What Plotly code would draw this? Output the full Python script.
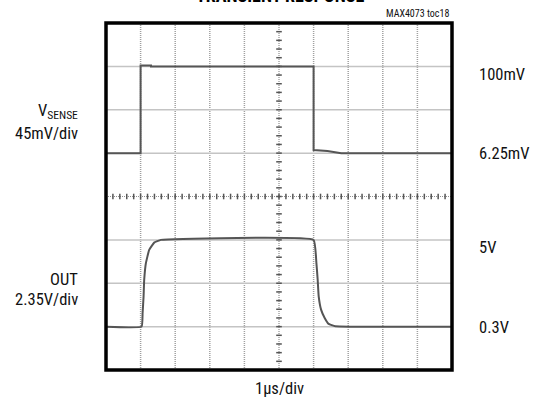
import plotly.graph_objects as go

# ---- data ----
t_vsense = [0, 1.0, 1.0, 1.3, 1.3, 6.0, 6.0, 6.4, 6.8, 10]
v_vsense = [6.25, 6.25, 101, 101, 100, 100, 9.5, 8.5, 6.25, 6.25]

t_out = [0, 1.029, 1.058, 1.086, 1.104, 1.153, 1.248, 1.392, 1.585, 6.0,
         6.081, 6.118, 6.147, 6.216, 6.32, 6.435, 6.628, 10]
v_out = [0.3, 0.3, 1.04, 1.94, 2.84, 3.74, 4.46, 4.85, 5.0, 5.0,
         3.74, 2.84, 1.94, 1.22, 0.77, 0.45, 0.32, 0.3]

left_labels = ["V<sub>SENSE</sub>", "45mV/div", "OUT", "2.35V/div"]
right_labels = ["100mV", "6.25mV", "5V", "0.3V"]
title_text = "TRANSIENT RESPONSE"
x_label = "1µs/div"
note = "MAX4073 toc18"

# ---- scales ----
n_xdiv, n_ydiv = 10, 8
vs_per_div = (100 - 6.25) / 2
vs_range = [6.25 - 5 * vs_per_div, 6.25 + 3 * vs_per_div]
out_per_div = 2.35
out_range = [0.3 - 1 * out_per_div, 0.3 + 7 * out_per_div]

W, H = 538, 405
L, R, T, B = 106, 86, 23, 35
PW, PH = W - L - R, H - T - B

def px(x):
    return (x - L) / PW

def py(y):
    return (H - B - y) / PH

FONT = "Liberation Sans Narrow, Roboto Condensed, Arial Narrow, Liberation Sans, sans-serif"

fig = go.Figure()

shapes = []
# vertical dotted grid
for i in range(1, n_xdiv):
    if i == 5:
        continue
    shapes.append(dict(type="line", xref="x", yref="paper", x0=i, x1=i, y0=0, y1=1,
                       line=dict(color="#a0a0a0", width=1.5, dash="1px,1px"), layer="below"))
# horizontal solid grid
for j in range(1, n_ydiv):
    if j == 4:
        continue
    shapes.append(dict(type="line", xref="paper", yref="paper", x0=0, x1=1, y0=j / n_ydiv, y1=j / n_ydiv,
                       line=dict(color="#c4c4c4", width=1.5), layer="below"))
# center lines
shapes.append(dict(type="line", xref="paper", yref="paper", x0=0, x1=1, y0=0.5, y1=0.5,
                   line=dict(color="#909090", width=1.2, dash="1px,1px"), layer="below"))
shapes.append(dict(type="line", xref="x", yref="paper", x0=5, x1=5, y0=0, y1=1,
                   line=dict(color="#909090", width=1.2, dash="1px,1px"), layer="below"))
# frame
shapes.append(dict(type="rect", xref="paper", yref="paper", x0=0, x1=1, y0=0, y1=1,
                   line=dict(color="black", width=3.5), layer="above"))

# center tick marks
ctr_vs = vs_range[0] + 4 * vs_per_div
tick_x = [k * 0.2 for k in range(0, 51)]
fig.add_trace(go.Scatter(x=tick_x, y=[ctr_vs] * len(tick_x), mode="markers",
                         marker=dict(symbol="line-ns", size=4, line=dict(color="#555", width=1.5)),
                         hoverinfo="skip", showlegend=False))
tick_y = [vs_range[0] + k * 0.2 * vs_per_div for k in range(0, 41)]
fig.add_trace(go.Scatter(x=[5] * len(tick_y), y=tick_y, mode="markers",
                         marker=dict(symbol="line-ew", size=4, line=dict(color="#555", width=1.5)),
                         hoverinfo="skip", showlegend=False))

fig.add_trace(go.Scatter(x=t_vsense, y=v_vsense, mode="lines", yaxis="y",
                         line=dict(color="#555555", width=2), showlegend=False))
fig.add_trace(go.Scatter(x=t_out, y=v_out, mode="lines", yaxis="y2",
                         line=dict(color="#555555", width=2, shape="spline", smoothing=0.3),
                         showlegend=False))

ann = []
left_y = [112, 133, 279, 299]
for txt, yy in zip(left_labels, left_y):
    ann.append(dict(text=txt, xref="paper", yref="paper", x=px(80), y=py(yy),
                    xanchor="right", yanchor="middle", showarrow=False,
                    font=dict(family=FONT, size=16.5, color="#111")))
right_y = [75, 153, 247, 327]
for txt, yy in zip(right_labels, right_y):
    ann.append(dict(text=txt, xref="paper", yref="paper", x=px(477), y=py(yy),
                    xanchor="left", yanchor="middle", showarrow=False,
                    font=dict(family=FONT, size=16.5, color="#111")))
ann.append(dict(text=x_label, xref="paper", yref="paper", x=px(279), y=py(388),
                xanchor="center", yanchor="middle", showarrow=False,
                font=dict(family=FONT, size=16.5, color="#111")))
ann.append(dict(text=note, xref="paper", yref="paper", x=px(451), y=py(14),
                xanchor="right", yanchor="middle", showarrow=False,
                font=dict(family=FONT, size=10, color="#111")))
ann.append(dict(text="<b>" + title_text + "</b>", xref="paper", yref="paper", x=px(280), y=py(-4),
                xanchor="center", yanchor="middle", showarrow=False,
                font=dict(family=FONT, size=18, color="#000")))

fig.update_layout(
    width=W, height=H,
    margin=dict(l=L, r=R, t=T, b=B),
    paper_bgcolor="white", plot_bgcolor="white",
    xaxis=dict(range=[0, n_xdiv], showgrid=False, zeroline=False, showticklabels=False, ticks=""),
    yaxis=dict(range=vs_range, showgrid=False, zeroline=False, showticklabels=False, ticks=""),
    yaxis2=dict(range=out_range, overlaying="y", showgrid=False, zeroline=False,
                showticklabels=False, ticks=""),
    shapes=shapes,
    annotations=ann,
)

fig.write_html("out.html", config={"displayModeBar": False},
               post_script="document.body.style.margin='0';document.body.style.overflow='hidden';")
